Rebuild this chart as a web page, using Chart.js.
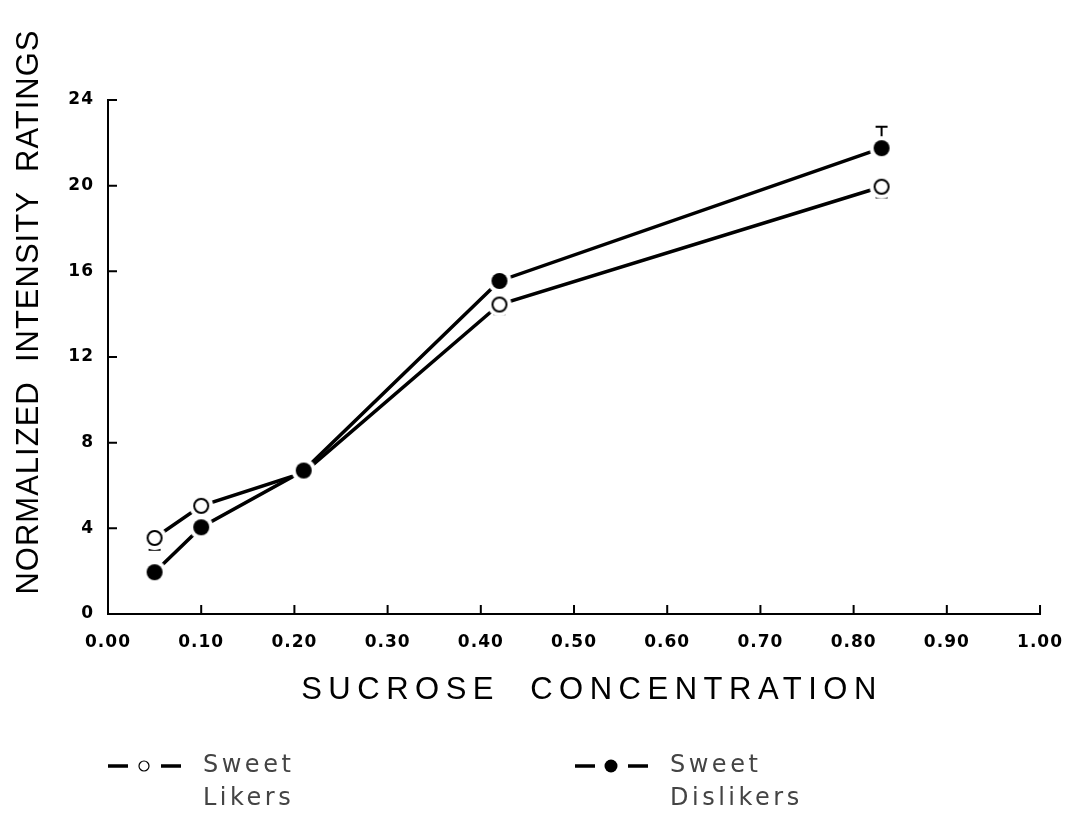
<!DOCTYPE html>
<html>
<head>
<meta charset="utf-8">
<script src="https://cdn.jsdelivr.net/npm/chart.js@4.4.1/dist/chart.umd.min.js"></script>
<style>
  html, body { margin: 0; padding: 0; background: #fff; }
  canvas { display: block; }
</style>
</head>
<body>
<canvas id="chart" width="1079" height="819"></canvas>
<script>
// Sucrose concentration (M) and mean normalized ratings per group
const concentrations = [0.05, 0.10, 0.21, 0.42, 0.83];
const likersMeans = [3.55, 5.05, 6.6, 14.45, 19.95];
const dislikersMeans = [1.95, 4.05, 6.7, 15.55, 21.75];

// One-sided error bars (likers drawn below, dislikers above)
const likersErrLow = [0.55, 0, 0, 0.45, 0.5];
const dislikersErrHigh = [0, 0, 0, 0, 1.0];

const xTickValues = [0, 0.1, 0.2, 0.3, 0.4, 0.5, 0.6, 0.7, 0.8, 0.9, 1.0];
const yTickValues = [0, 4, 8, 12, 16, 20, 24];

const xTitle = 'SUCROSE  CONCENTRATION';
const yTitle = 'NORMALIZED  INTENSITY  RATINGS';
const legendLabels = [['Sweet', 'Likers'], ['Sweet', 'Dislikers']];

const TICK_FONT = '"DejaVu Sans", sans-serif';
const TITLE_FONT = '"Liberation Sans", Arial, sans-serif';

// --- helpers ---

// marker with a white halo so the lines stop short of the symbol
function makeMarker(filled) {
    const c = document.createElement('canvas');
    c.width = c.height = 28;
    const g = c.getContext('2d');
    g.fillStyle = '#fff';
    g.beginPath(); g.arc(14, 14, 12, 0, Math.PI * 2); g.fill();
    g.beginPath(); g.arc(14, 14, filled ? 8 : 7, 0, Math.PI * 2);
    if (filled) {
        g.fillStyle = '#000';
        g.fill();
    } else {
        g.lineWidth = 2;
        g.strokeStyle = '#000';
        g.stroke();
    }
    return c;
}

const toPoints = (ys) => concentrations.map((c, i) => ({ x: c, y: ys[i] }));

// letter spacing for the tick labels (glyphs in the figure are wide)
const spacing = {
    id: 'spacing',
    beforeDraw(chart) { chart.ctx.letterSpacing = '1px'; },
    afterDraw(chart) { chart.ctx.letterSpacing = '0px'; }
};

const errorBars = {
    id: 'errorBars',
    beforeDatasetsDraw(chart) {
        const { ctx, scales: { x, y } } = chart;
        ctx.save();
        ctx.strokeStyle = '#000';
        ctx.lineWidth = 2;
        chart.data.datasets.forEach(ds => {
            ds.data.forEach((p, i) => {
                const lo = ds.errLow ? ds.errLow[i] : 0;
                const hi = ds.errHigh ? ds.errHigh[i] : 0;
                const px = x.getPixelForValue(p.x);
                [[lo, -1], [hi, 1]].forEach(([e, dir]) => {
                    if (!e) return;
                    const y0 = y.getPixelForValue(p.y);
                    const y1 = y.getPixelForValue(p.y + dir * e);
                    ctx.beginPath();
                    ctx.moveTo(px, y0); ctx.lineTo(px, y1);
                    ctx.moveTo(px - 6, y1); ctx.lineTo(px + 6, y1);
                    ctx.stroke();
                });
            });
        });
        ctx.restore();
    }
};

// tick marks point into the plot area
const innerTicks = {
    id: 'innerTicks',
    afterDraw(chart) {
        const { ctx, chartArea: area, scales: { x, y } } = chart;
        ctx.save();
        ctx.strokeStyle = '#000';
        ctx.lineWidth = 2;
        ctx.beginPath();
        yTickValues.forEach(v => {
            const py = y.getPixelForValue(v);
            ctx.moveTo(area.left, py); ctx.lineTo(area.left + 9, py);
        });
        xTickValues.slice(1).forEach(v => {
            const px = x.getPixelForValue(v);
            ctx.moveTo(px, area.bottom); ctx.lineTo(px, area.bottom - 9);
        });
        ctx.stroke();
        ctx.restore();
    }
};

const titlesAndLegend = {
    id: 'titlesAndLegend',
    afterDraw(chart) {
        const ctx = chart.ctx;
        ctx.save();
        ctx.fillStyle = '#000';
        ctx.textBaseline = 'middle';
        ctx.textAlign = 'center';

        // axis titles
        ctx.font = '31px ' + TITLE_FONT;
        ctx.letterSpacing = '6.5px';
        ctx.fillText(xTitle, 592, 690);

        ctx.save();
        ctx.translate(29, 312);
        ctx.rotate(-Math.PI / 2);
        ctx.font = '31px ' + TITLE_FONT;
        ctx.letterSpacing = '1px';
        ctx.fillText(yTitle, 0, 0);
        ctx.restore();

        // legend
        const entries = [
            { x: 108, filled: false, text: legendLabels[0] },
            { x: 575, filled: true, text: legendLabels[1] }
        ];
        ctx.textAlign = 'left';
        ctx.font = '24px ' + TICK_FONT;
        ctx.letterSpacing = '3.5px';
        entries.forEach(e => {
            const ly = 766;
            ctx.strokeStyle = '#000';
            ctx.lineWidth = 3.5;
            ctx.beginPath();
            ctx.moveTo(e.x, ly); ctx.lineTo(e.x + 20, ly);
            ctx.moveTo(e.x + 53, ly); ctx.lineTo(e.x + 73, ly);
            ctx.stroke();
            ctx.beginPath();
            ctx.arc(e.x + 36, ly, e.filled ? 6.5 : 5, 0, Math.PI * 2);
            if (e.filled) {
                ctx.fillStyle = '#000';
                ctx.fill();
            } else {
                ctx.lineWidth = 1.2;
                ctx.stroke();
            }
            ctx.fillStyle = '#444';
            ctx.fillText(e.text[0], e.x + 95, ly);
            ctx.fillText(e.text[1], e.x + 95, ly + 33);
        });
        ctx.restore();
    }
};

// --- chart ---

new Chart(document.getElementById('chart'), {
    type: 'line',
    data: {
        datasets: [
            {
                label: 'Sweet Dislikers',
                data: toPoints(dislikersMeans),
                errHigh: dislikersErrHigh,
                borderColor: '#000',
                borderWidth: 3.5,
                pointStyle: makeMarker(true),
                tension: 0
            },
            {
                label: 'Sweet Likers',
                data: toPoints(likersMeans),
                errLow: likersErrLow,
                borderColor: '#000',
                borderWidth: 3.5,
                pointStyle: makeMarker(false),
                tension: 0
            }
        ]
    },
    options: {
        responsive: false,
        animation: false,
        layout: { padding: { top: 100, right: 37, left: 0, bottom: 0 } },
        plugins: { legend: { display: false }, tooltip: { enabled: false } },
        scales: {
            x: {
                type: 'linear',
                min: 0,
                max: 1,
                afterFit: s => { s.height = 205; },
                afterBuildTicks: s => { s.ticks = xTickValues.map(v => ({ value: v })); },
                grid: { display: false, drawTicks: false },
                border: { display: true, color: '#000', width: 2 },
                ticks: {
                    color: '#000',
                    padding: 18,
                    maxRotation: 0,
                    autoSkip: false,
                    font: { family: TICK_FONT, size: 17, weight: 'bold' },
                    callback: v => Number(v).toFixed(2)
                }
            },
            y: {
                min: 0,
                max: 24,
                afterFit: s => { s.width = 108; },
                afterBuildTicks: s => { s.ticks = yTickValues.map(v => ({ value: v })); },
                grid: { display: false, drawTicks: false },
                border: { display: true, color: '#000', width: 2 },
                ticks: {
                    color: '#000',
                    padding: 14,
                    font: { family: TICK_FONT, size: 17, weight: 'bold' }
                }
            }
        }
    },
    plugins: [spacing, errorBars, innerTicks, titlesAndLegend]
});
</script>
</body>
</html>
